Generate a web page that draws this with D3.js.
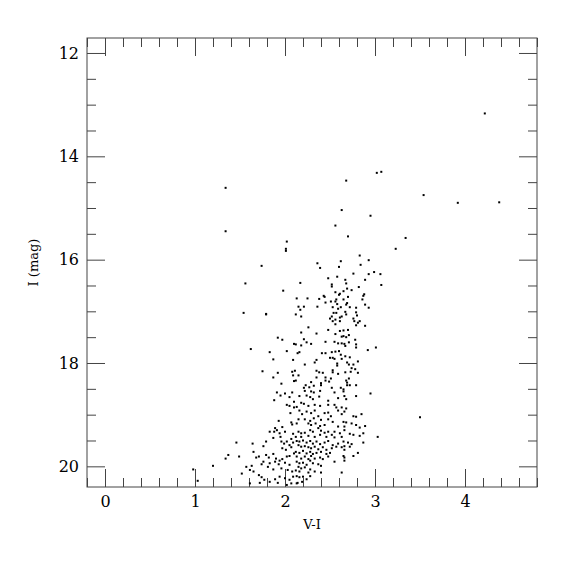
<!DOCTYPE html>
<html>
<head>
<meta charset="utf-8">
<script src="https://cdn.jsdelivr.net/npm/d3@7"></script>
<style>
  body { margin: 0; background: #fff; }
  svg { display: block; }
</style>
</head>
<body>
<div id="chart"></div>
<script>
// [V-I, I] pairs
const brightStars = [
  [1.34,14.61],[1.34,15.45],[2.02,15.65],[2.01,15.79],[4.22,13.17],[3.02,14.32],[3.07,14.30],[2.68,14.47],
  [3.54,14.75],[3.92,14.90],[4.38,14.89],[2.63,15.04],[2.95,15.15],[2.56,15.34],[2.70,15.55],[3.34,15.58],
  [3.23,15.79],[0.98,20.06],[1.03,20.28],[3.50,19.05],
  [2.01,15.83],[1.74,16.12],[1.56,16.46],[1.98,16.60],[1.54,17.03],[1.79,17.05],[1.79,17.06]
];
const upperBranch = [
  [2.83,15.92],[2.36,16.07],[2.62,16.03],[2.39,16.16],[2.60,16.14],[2.93,16.01],[2.84,16.10],[2.17,16.45],
  [2.76,16.27],[2.48,16.36],[2.58,16.33],[2.67,16.39],[2.68,16.46],[2.52,16.48],[2.52,16.52],[2.99,16.24],
  [3.06,16.28],[2.93,16.28],[2.89,16.39],[3.07,16.49],[2.82,16.53],[2.69,16.56],[2.74,16.59],[2.56,16.63],
  [2.61,16.66],[2.60,16.68],[2.65,16.61],[2.88,16.67],[2.87,16.70],[2.43,16.70],[2.44,16.72],[2.70,16.72],
  [2.13,16.75],[2.25,16.75],[2.38,16.76],[2.57,16.77],[2.65,16.77],[2.86,16.77],[2.51,16.81],[2.45,16.83],
  [2.56,16.81],[2.58,16.86],[2.69,16.84],[2.68,16.87],[2.89,16.87],[2.15,16.91],[2.21,16.91],[2.36,16.91],
  [2.53,16.92],[2.59,16.95],[2.62,16.92],[2.93,16.93],[2.72,16.92],[2.79,16.93],[2.17,16.97],[2.12,17.06],
  [2.18,17.10],[2.54,17.03],[2.57,17.03],[2.67,17.01],[2.68,17.06],[2.79,17.02],[2.80,17.08],[2.52,17.10],
  [2.61,17.12],[2.63,17.10],[2.50,17.14],[2.76,17.14],[2.56,17.16]
];
const middleBranch = [
  [1.92,17.51],[1.97,17.55],[2.10,17.63],[1.62,17.73],[1.83,17.79],[2.02,17.77],[1.87,17.93],[2.09,17.94],
  [1.75,18.16],[1.92,18.19],[2.08,18.17],[2.09,18.24],[1.87,18.28],[2.10,18.35],[1.96,18.40],
  [2.53,17.19],[2.56,17.25],[2.61,17.19],[2.77,17.19],[2.81,17.22],[2.83,17.19],[2.79,17.27],[2.89,17.28],
  [2.26,17.31],[2.18,17.41],[2.35,17.43],[2.48,17.36],[2.56,17.44],[2.61,17.38],[2.65,17.37],[2.70,17.36],
  [2.63,17.49],[2.65,17.48],[2.68,17.50],[2.71,17.46],[2.21,17.54],[2.24,17.60],[2.29,17.63],[2.45,17.59],
  [2.55,17.59],[2.59,17.62],[2.63,17.62],[2.66,17.63],[2.67,17.67],[2.71,17.60],[2.78,17.55],[2.79,17.64],
  [2.12,17.64],[2.18,17.66],[2.16,17.79],[2.14,17.81],[2.41,17.81],[2.45,17.81],[2.52,17.79],[2.56,17.78],
  [2.60,17.77],[2.62,17.84],[2.67,17.87],[2.72,17.89],[2.79,17.70],[2.92,17.75],[3.01,17.70],[2.50,17.90],
  [2.53,17.90],[2.55,17.92],[2.63,17.92],[2.58,18.01],[2.58,18.05],[2.35,17.94],[2.33,17.99],[2.22,18.03],
  [2.69,17.99],[2.71,18.03],[2.76,18.03],[2.81,17.97],[2.74,18.10],[2.78,18.12],[2.11,18.15],[2.35,18.15],
  [2.38,18.18],[2.42,18.19],[2.53,18.14],[2.53,18.18],[2.59,18.21],[2.67,18.18],[2.73,18.17],[2.81,18.19],
  [2.15,18.24],[2.35,18.28],[2.45,18.28],[2.51,18.30],[2.45,18.34],[2.49,18.36],[2.40,18.39],[2.40,18.43],
  [2.29,18.37],[2.27,18.47],[2.23,18.43],[2.32,18.44],[2.21,18.48],[2.52,18.48],[2.62,18.48],[2.68,18.34],
  [2.69,18.38],[2.71,18.30],[2.69,18.43],[2.72,18.43],[2.79,18.43],[2.65,18.51],[2.12,18.34]
];
const lowerBranch = [
  [1.91,18.57],[1.95,18.63],[2.00,18.59],[2.05,18.66],[2.08,18.57],[1.88,18.72],[2.10,18.75],[2.02,18.81],
  [2.05,18.83],[2.10,18.86],[2.06,18.97],[1.93,19.12],[2.07,19.15],[2.08,19.19],[1.97,19.24],[1.89,19.26],
  [1.91,19.30],[1.83,19.33],[1.88,19.33],[1.94,19.36],[2.00,19.33],[2.09,19.37],[1.95,19.43],[1.87,19.45],
  [2.07,19.47],
  [2.22,18.54],[2.29,18.55],[2.32,18.57],[2.39,18.54],[2.55,18.57],[2.65,18.55],[2.79,18.64],[2.95,18.59],
  [2.16,18.64],[2.24,18.63],[2.28,18.66],[2.31,18.70],[2.38,18.65],[2.48,18.73],[2.59,18.68],[2.66,18.64],
  [2.68,18.70],[2.18,18.77],[2.21,18.79],[2.13,18.85],[2.26,18.83],[2.33,18.81],[2.39,18.83],[2.48,18.81],
  [2.55,18.81],[2.57,18.86],[2.63,18.86],[2.68,18.88],[2.66,18.94],[2.59,18.92],[2.16,18.92],[2.19,18.99],
  [2.24,18.94],[2.29,18.97],[2.33,18.92],[2.37,19.03],[2.44,18.97],[2.48,18.96],[2.51,19.03],[2.63,18.99],
  [2.76,19.03],[2.85,18.99],[2.79,19.04],[2.15,19.09],[2.22,19.09],[2.28,19.12],[2.32,19.07],[2.40,19.10],
  [2.48,19.09],[2.53,19.14],[2.65,19.14],[2.68,19.15],[2.74,19.17],[2.79,19.20],[2.83,19.25],[2.89,19.22],
  [2.13,19.17],[2.26,19.17],[2.29,19.20],[2.34,19.17],[2.39,19.22],[2.44,19.20],[2.59,19.23],[2.66,19.23],
  [2.15,19.33],[2.18,19.36],[2.22,19.35],[2.28,19.30],[2.31,19.33],[2.37,19.26],[2.40,19.31],[2.44,19.35],
  [2.48,19.33],[2.52,19.39],[2.55,19.33],[2.61,19.36],[2.66,19.30],[2.72,19.37],[2.76,19.39],[2.83,19.41],
  [2.87,19.36],[2.12,19.43],[2.18,19.43],[2.26,19.41],[2.33,19.43],[2.39,19.39],[2.46,19.43],[2.55,19.44],
  [2.63,19.43],[3.03,19.43]
];
const faintStars = [
  [1.46,19.54],[1.64,19.56],[1.79,19.52],[1.76,19.61],[1.96,19.52],[1.99,19.56],[2.02,19.52],[2.05,19.59],
  [2.07,19.63],[1.97,19.65],[2.01,19.68],[2.09,19.54],[1.37,19.78],[1.49,19.81],[1.34,19.85],[1.65,19.72],
  [1.68,19.83],[1.71,19.81],[1.79,19.78],[1.82,19.83],[1.87,19.76],[1.90,19.85],[1.94,19.89],[1.97,19.86],
  [2.02,19.81],[2.05,19.80],[2.10,19.75],[1.76,19.91],[1.83,19.94],[1.89,19.91],[1.93,19.96],[2.00,19.93],
  [2.05,19.97],[1.20,19.99],[1.57,20.01],[1.63,19.99],[1.61,20.07],[1.65,20.10],[1.74,19.96],[1.81,20.01],
  [1.87,20.06],[1.96,20.04],[2.03,20.07],[2.08,20.10],[1.52,20.14],[1.71,20.17],[1.74,20.21],[1.77,20.26],
  [1.83,20.30],[1.89,20.25],[1.94,20.20],[2.00,20.23],[2.05,20.26],[2.09,20.20],[1.72,20.32],[1.61,20.33],
  [1.92,20.32],[2.02,20.36],[2.07,20.33],
  [2.13,19.51],[2.16,19.52],[2.20,19.50],[2.24,19.54],[2.28,19.51],[2.31,19.56],[2.35,19.52],[2.39,19.57],
  [2.44,19.54],[2.48,19.51],[2.53,19.59],[2.59,19.56],[2.65,19.52],[2.66,19.61],[2.70,19.54],[2.74,19.57],
  [2.87,19.54],[2.15,19.59],[2.18,19.62],[2.22,19.61],[2.26,19.63],[2.29,19.65],[2.33,19.62],[2.37,19.67],
  [2.42,19.63],[2.46,19.68],[2.52,19.65],[2.57,19.62],[2.63,19.63],[2.66,19.68],[2.72,19.62],[2.12,19.72],
  [2.16,19.74],[2.20,19.70],[2.24,19.75],[2.28,19.72],[2.31,19.76],[2.35,19.74],[2.40,19.72],[2.46,19.76],
  [2.50,19.74],[2.81,19.74],[2.65,19.80],[2.66,19.83],[2.76,19.80],[2.13,19.81],[2.18,19.85],[2.22,19.81],
  [2.26,19.86],[2.29,19.80],[2.33,19.85],[2.39,19.83],[2.42,19.86],[2.48,19.81],[2.55,19.91],[2.66,19.89],
  [2.13,19.91],[2.16,19.94],[2.20,19.93],[2.24,19.97],[2.28,19.89],[2.31,19.94],[2.37,19.96],[2.40,19.99],
  [2.15,20.01],[2.18,20.04],[2.22,20.02],[2.28,20.06],[2.12,20.08],[2.16,20.10],[2.26,20.12],[2.33,20.10],
  [2.40,20.12],[2.63,20.12],[2.13,20.19],[2.16,20.21],[2.20,20.20],[2.24,20.25],[2.28,20.19],[2.14,20.32],
  [2.19,20.30],[2.13,20.33]
];

const xMajor = [0, 1, 2, 3, 4];
const yMajor = [12, 14, 16, 18, 20];
const xTitle = "V-I";
const yTitle = "I (mag)";

const stars = [].concat(brightStars, upperBranch, middleBranch, lowerBranch, faintStars);

const W = 575, H = 575;
const margin = {top: 38, right: 38, bottom: 88, left: 87};
const x = d3.scaleLinear().domain([-0.2, 4.8]).range([margin.left, W - margin.right]);
const y = d3.scaleLinear().domain([11.71, 20.4]).range([margin.top, H - margin.bottom]);

const svg = d3.select("#chart").append("svg")
  .attr("width", W).attr("height", H);

const xMinor = d3.range(-0.2, 4.81, 0.2).map(v => +v.toFixed(1)).filter(v => !xMajor.includes(v));
const yMinor = d3.range(12, 20.41, 0.5).filter(v => !yMajor.includes(v));

const font = "'DejaVu Serif', 'Liberation Serif', serif";
const tickColor = "#444";

function styleAxis(g) {
  g.select(".domain").remove();
  g.selectAll("line").attr("stroke", tickColor);
  g.selectAll("text").attr("font-family", font).attr("font-size", 16).attr("fill", "#000");
}

// bottom and top
svg.append("g").attr("transform", `translate(0,${y.range()[1]})`)
  .call(d3.axisBottom(x).tickValues(xMajor).tickSizeInner(-18).tickSizeOuter(0).tickPadding(9).tickFormat(d3.format("d")))
  .call(styleAxis);
svg.append("g").attr("transform", `translate(0,${y.range()[1]})`)
  .call(d3.axisBottom(x).tickValues(xMinor).tickSizeInner(-9).tickSizeOuter(0).tickFormat(""))
  .call(styleAxis);
svg.append("g").attr("transform", `translate(0,${y.range()[0]})`)
  .call(d3.axisTop(x).tickValues(xMajor).tickSizeInner(-18).tickSizeOuter(0).tickFormat(""))
  .call(styleAxis);
svg.append("g").attr("transform", `translate(0,${y.range()[0]})`)
  .call(d3.axisTop(x).tickValues(xMinor).tickSizeInner(-9).tickSizeOuter(0).tickFormat(""))
  .call(styleAxis);

// left and right
svg.append("g").attr("transform", `translate(${x.range()[0]},0)`)
  .call(d3.axisLeft(y).tickValues(yMajor).tickSizeInner(-18).tickSizeOuter(0).tickPadding(8).tickFormat(d3.format("d")))
  .call(styleAxis);
svg.append("g").attr("transform", `translate(${x.range()[0]},0)`)
  .call(d3.axisLeft(y).tickValues(yMinor).tickSizeInner(-9).tickSizeOuter(0).tickFormat(""))
  .call(styleAxis);
svg.append("g").attr("transform", `translate(${x.range()[1]},0)`)
  .call(d3.axisRight(y).tickValues(yMajor).tickSizeInner(-18).tickSizeOuter(0).tickFormat(""))
  .call(styleAxis);
svg.append("g").attr("transform", `translate(${x.range()[1]},0)`)
  .call(d3.axisRight(y).tickValues(yMinor).tickSizeInner(-9).tickSizeOuter(0).tickFormat(""))
  .call(styleAxis);

// frame
svg.append("rect")
  .attr("x", x.range()[0]).attr("y", y.range()[0])
  .attr("width", x.range()[1] - x.range()[0])
  .attr("height", y.range()[1] - y.range()[0])
  .attr("fill", "none").attr("stroke", tickColor).attr("stroke-width", 1);

// stars
svg.append("g").selectAll("rect")
  .data(stars)
  .join("rect")
  .attr("x", d => x(d[0]) - 1)
  .attr("y", d => y(d[1]) - 1)
  .attr("width", 2).attr("height", 2)
  .attr("fill", "#000");

// titles
svg.append("text")
  .attr("x", (x.range()[0] + x.range()[1]) / 2)
  .attr("y", 529)
  .attr("text-anchor", "middle")
  .attr("font-family", font).attr("font-size", 13)
  .text(xTitle);

svg.append("text")
  .attr("transform", `translate(38,${(y.range()[0] + y.range()[1]) / 2}) rotate(-90)`)
  .attr("text-anchor", "middle")
  .attr("font-family", font).attr("font-size", 13)
  .text(yTitle);
</script>
</body>
</html>
